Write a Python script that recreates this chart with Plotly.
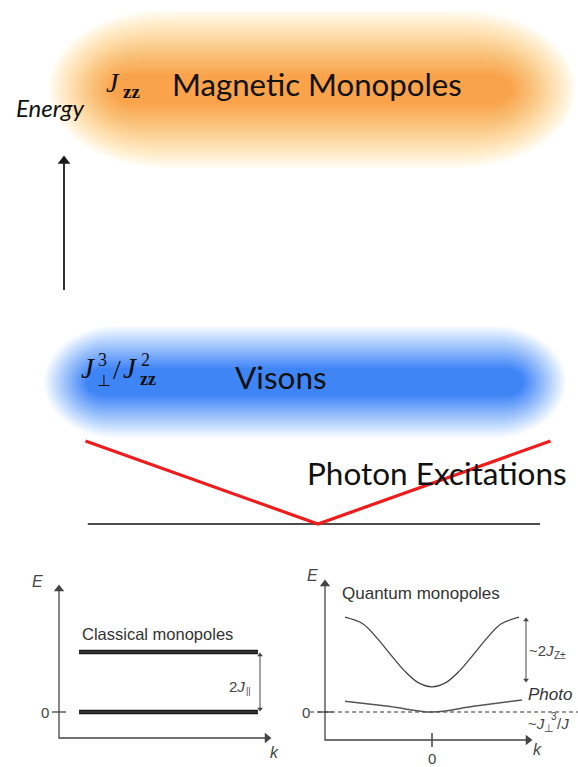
import math
import plotly.graph_objects as go

W, H = 578, 767

# ---------------- data ----------------
# main schematic: photon dispersion (V) and ground level
photon_k = [-1.0, 0.0, 1.0]
photon_E = [0.83, 0.0, 0.83]
ground_k = [-0.99, 0.955]
ground_E = [0.0, 0.0]

# inset 1: classical monopoles (flat bands)
classical_k = [0.095, 0.943]
classical_upper_E = [1.0, 1.0]
classical_lower_E = [0.0, 0.0]

# inset 2: quantum monopoles + photon + zero line
quantum_k = [-3.14, -2.5, -2.0, -1.5, -1.0, -0.5, 0.0, 0.5, 1.0, 1.5, 2.0, 2.5, 3.14]
quantum_E = [1.58, 1.47, 1.24, 0.96, 0.69, 0.49, 0.42, 0.49, 0.69, 0.96, 1.24, 1.47, 1.58]
qphoton_k = [-3.14, -1.5, 0.0, 1.5, 3.25]
qphoton_E = [0.18, 0.09, 0.0, 0.095, 0.2]
zero_k = [-4.4, 5.3]
zero_E = [0.0, 0.0]

# ---------------- helpers ----------------
def PX(x):
    return x / W


def PY(y):
    return 1 - y / H


# main axis mapping (pixels)
M_K0, M_KS = 318.0, 232.5
M_E0, M_ES = 524.0, 100.0
# inset 1 mapping
C_K0, C_KS = 59.0, 211.0
C_E0, C_ES = 712.0, 60.0
C_DOM_X = (30, 290)
C_DOM_Y = (575, 767)
# inset 2 mapping
Q_K0, Q_KS = 432.0, 87.0 / 3.14
Q_E0, Q_ES = 712.0, 60.0
Q_DOM_X = (295, 578)
Q_DOM_Y = (565, 767)


def mk(px):
    return (px - M_K0) / M_KS


def mE(py):
    return (M_E0 - py) / M_ES


def ck(px):
    return (px - C_K0) / C_KS


def cE(py):
    return (C_E0 - py) / C_ES


def qk(px):
    return (px - Q_K0) / Q_KS


def qE(py):
    return (Q_E0 - py) / Q_ES


def mix(c1, c2, t):
    return tuple(int(round(a + (b - a) * t)) for a, b in zip(c1, c2))


def glow(x0, y0, x1, y1, b_out, b_in, rx_ratio, c_out, c_in, n=22, a=0.15):
    shapes = []
    for i in range(n):
        t = i / (n - 1)
        e = b_out * (1 - t) - b_in * t
        X0, X1, Y0, Y1 = x0 - e, x1 + e, y0 - e, y1 + e
        ry = (Y1 - Y0) / 2
        rx = min(ry * rx_ratio, (X1 - X0) / 2)
        cy = (Y0 + Y1) / 2
        pts = []
        for j in range(21):
            th = -math.pi / 2 + math.pi * j / 20
            pts.append((X1 - rx + rx * math.cos(th), cy + ry * math.sin(th)))
        for j in range(21):
            th = math.pi / 2 + math.pi * j / 20
            pts.append((X0 + rx + rx * math.cos(th), cy + ry * math.sin(th)))
        path = "M " + " L ".join(f"{PX(x):.5f},{PY(y):.5f}" for x, y in pts) + " Z"
        col = mix(c_out, c_in, t)
        shapes.append(dict(type="path", xref="paper", yref="paper", path=path,
                           fillcolor=f"rgb({col[0]},{col[1]},{col[2]})",
                           opacity=a, line_width=0, layer="below"))
    return shapes


fig = go.Figure()


def line(xs, ys, ax, color, width, dash=None, shape="linear"):
    fig.add_trace(go.Scatter(x=xs, y=ys, mode="lines",
                             line=dict(color=color, width=width, dash=dash, shape=shape),
                             xaxis="x" + ax, yaxis="y" + ax, hoverinfo="skip"))


def head(x, y, ax, symbol, size, color):
    fig.add_trace(go.Scatter(x=[x], y=[y], mode="markers",
                             marker=dict(symbol=symbol, size=size, color=color,
                                         line=dict(width=0)),
                             xaxis="x" + ax, yaxis="y" + ax, hoverinfo="skip"))


# main schematic traces
line(ground_k, ground_E, "", "#111111", 1.6)
line(photon_k, photon_E, "", "#ee1c1c", 3.2)
# energy arrow
line([mk(64), mk(64)], [mE(290), mE(162)], "", "#1a1a1a", 1.8)
head(mk(64), mE(161), "", "triangle-up", 11, "#1a1a1a")

# inset 1 traces
for yy in (classical_upper_E, classical_lower_E):
    line(classical_k, yy, "2", "#1a1a1a", 4.5)
    line(classical_k, yy, "2", "#555555", 0.8)
# inset 1 axes
AX = "#444444"
line([ck(59), ck(59), ck(266)], [cE(590), cE(738), cE(738)], "2", AX, 1.3)
head(ck(59), cE(589), "2", "triangle-up", 9, AX)
head(ck(267), cE(738), "2", "triangle-right", 9, AX)
line([ck(52), ck(66)], [0, 0], "2", AX, 1.3)
line([ck(260), ck(260)], [cE(655), cE(709)], "2", AX, 1.0)
head(ck(260), cE(655), "2", "triangle-up", 5, AX)
head(ck(260), cE(709), "2", "triangle-down", 5, AX)

# inset 2 traces
line(zero_k, zero_E, "3", "#333333", 1.2, dash="4px,3px")
line(quantum_k, quantum_E, "3", "#444444", 1.3, shape="spline")
line(qphoton_k, qphoton_E, "3", "#555555", 1.5, shape="spline")
# inset 2 axes
line([qk(325), qk(325), qk(527)], [qE(585), qE(740), qE(740)], "3", AX, 1.3)
head(qk(325), qE(584), "3", "triangle-up", 9, AX)
head(qk(528), qE(740), "3", "triangle-right", 9, AX)
line([qk(318), qk(333)], [0, 0], "3", AX, 1.3)
line([0, 0], [qE(733), qE(747)], "3", AX, 1.5)
line([qk(526), qk(526)], [qE(620), qE(680)], "3", AX, 1.0)
head(qk(526), qE(620), "3", "triangle-up", 5, AX)
head(qk(526), qE(680), "3", "triangle-down", 5, AX)

shapes = []
shapes += glow(90, 52, 534, 126, 42, 22, 1.5, (255, 238, 190), (248, 146, 44), n=24, a=0.17)
shapes += glow(72, 354, 538, 410, 28, 14, 1.3, (205, 225, 255), (28, 108, 245), n=22, a=0.18)

ann = []


def text(x, y, s, size, family="Lato", color="#111111", xanchor="left", yanchor="middle"):
    ann.append(dict(xref="paper", yref="paper", x=PX(x), y=PY(y), text=s, showarrow=False,
                    xanchor=xanchor, yanchor=yanchor,
                    font=dict(size=size, family=family, color=color)))


SERIF = "Liberation Serif"
SANS = "Liberation Sans"
# top labels
text(14, 107, "<i>Energy</i>", 24)
text(104, 82, "<i>J</i>", 28, SERIF)
text(121, 91, "<b>zz</b>", 19, SERIF)
text(170, 84, "Magnetic Monopoles", 31.2)
# visons labels
text(79, 368, "<i>J</i>", 29, SERIF)
text(96, 360, "3", 18, SERIF)
text(95, 380, "⊥", 16, SERIF)
text(111, 369, "/", 28, SERIF)
text(121, 368, "<i>J</i>", 29, SERIF)
text(139, 360, "2", 18, SERIF)
text(138, 379, "<b>zz</b>", 18, SERIF)
text(233, 377, "Visons", 31.5)
text(305, 473, "Photon Excitations", 31.5)
# inset 1 labels
text(37, 581, "<i>E</i>", 16, SANS, AX, "center")
text(274, 752, "<i>k</i>", 16, SANS, AX, "center")
text(45, 712, "0", 15, SANS, AX, "center")
text(80, 634, "Classical monopoles", 16.5, SANS, "#333333")
text(227, 686, "2<i>J</i>", 15, SANS, AX)
text(244, 691, "||", 9, SANS, AX)
# inset 2 labels
text(312, 575, "<i>E</i>", 16, SANS, AX, "center")
text(537, 749, "<i>k</i>", 16, SANS, AX, "center")
text(306, 712, "0", 15, SANS, AX, "center")
text(432, 758, "0", 15, SANS, AX, "center")
text(340, 593, "Quantum monopoles", 17, SANS, "#333333")
text(527, 650, "~2<i>J</i>", 15, SANS, AX)
text(552, 655, "Z±", 10, SANS, AX)
text(526, 694, "<i>Photo</i>", 17, SANS, "#333333")
text(526, 723, "~<i>J</i>", 15, SANS, AX)
text(542, 728, "⊥", 11, SANS, AX)
text(549, 716, "3", 10, SANS, AX)
text(555, 723, "/<i>J</i>", 15, SANS, AX)

hidden = dict(visible=False, showgrid=False, zeroline=False, fixedrange=True)
fig.update_layout(
    width=W, height=H, autosize=False,
    margin=dict(l=0, r=0, t=0, b=0),
    paper_bgcolor="white", plot_bgcolor="rgba(0,0,0,0)",
    showlegend=False,
    xaxis=dict(domain=[0, 1], range=[mk(0), mk(W)], anchor="y", **hidden),
    yaxis=dict(domain=[0, 1], range=[mE(H), mE(0)], anchor="x", **hidden),
    xaxis2=dict(domain=[PX(C_DOM_X[0]), PX(C_DOM_X[1])], range=[ck(C_DOM_X[0]), ck(C_DOM_X[1])],
                anchor="y2", **hidden),
    yaxis2=dict(domain=[PY(C_DOM_Y[1]), PY(C_DOM_Y[0])], range=[cE(C_DOM_Y[1]), cE(C_DOM_Y[0])],
                anchor="x2", **hidden),
    xaxis3=dict(domain=[PX(Q_DOM_X[0]), PX(Q_DOM_X[1])], range=[qk(Q_DOM_X[0]), qk(Q_DOM_X[1])],
                anchor="y3", **hidden),
    yaxis3=dict(domain=[PY(Q_DOM_Y[1]), PY(Q_DOM_Y[0])], range=[qE(Q_DOM_Y[1]), qE(Q_DOM_Y[0])],
                anchor="x3", **hidden),
    shapes=shapes,
    annotations=ann,
)

fig.write_html("out.html")
